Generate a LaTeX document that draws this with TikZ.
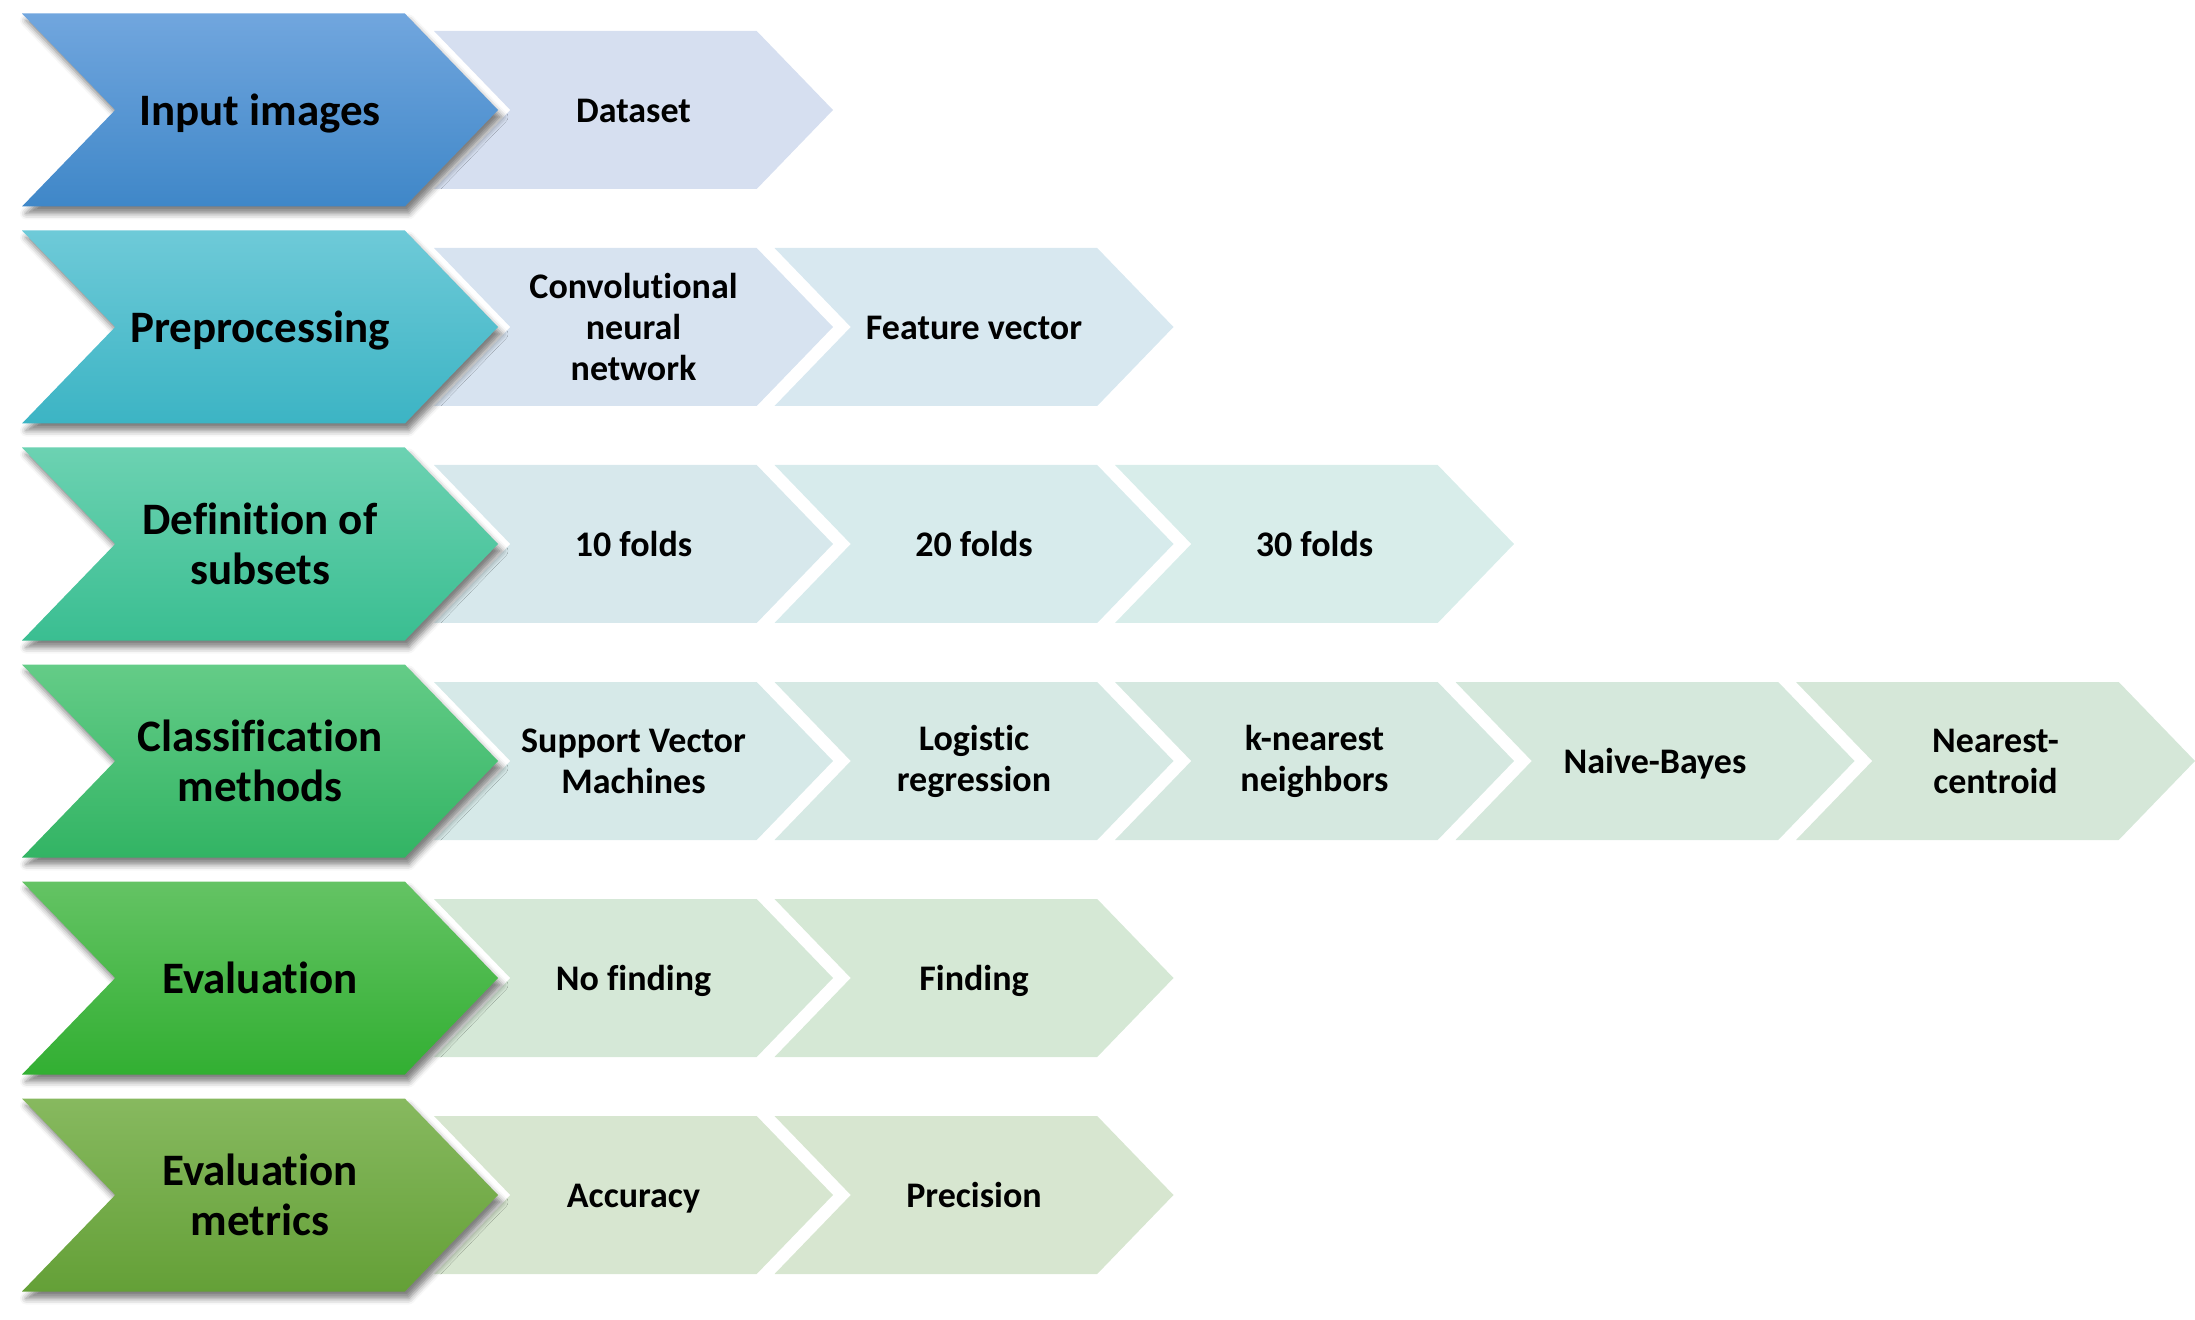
\documentclass[tikz,border=0pt]{standalone}
\usepackage{fontspec}
\setmainfont{Carlito}[Ligatures=NoCommon]
\usetikzlibrary{shapes.symbols,shadows.blur}
% Farben der grossen Pfeile (oben / unten)
\definecolor{inputtop}{RGB}{113,166,222}
\definecolor{inputbot}{RGB}{63,135,200}
\definecolor{preptop}{RGB}{110,202,216}
\definecolor{prepbot}{RGB}{60,180,196}
\definecolor{subtop}{RGB}{108,210,178}
\definecolor{subbot}{RGB}{58,190,145}
\definecolor{clstop}{RGB}{100,204,135}
\definecolor{clsbot}{RGB}{50,180,100}
\definecolor{evaltop}{RGB}{100,195,100}
\definecolor{evalbot}{RGB}{50,175,50}
\definecolor{mettop}{RGB}{135,185,95}
\definecolor{metbot}{RGB}{100,160,55}
% Farben der kleinen Pfeile
\definecolor{rowa}{RGB}{214,223,240}
\definecolor{rowba}{RGB}{215,227,240}
\definecolor{rowbb}{RGB}{216,232,240}
\definecolor{rowca}{RGB}{215,232,236}
\definecolor{rowcb}{RGB}{215,235,236}
\definecolor{rowcc}{RGB}{216,237,234}
\definecolor{rowda}{RGB}{214,233,232}
\definecolor{rowdb}{RGB}{214,233,228}
\definecolor{rowdc}{RGB}{213,232,224}
\definecolor{rowdd}{RGB}{213,232,220}
\definecolor{rowde}{RGB}{213,231,216}
\definecolor{rowea}{RGB}{213,232,215}
\definecolor{roweb}{RGB}{213,232,213}
\definecolor{rowf}{RGB}{215,230,208}

\begin{document}
\begin{tikzpicture}[x=0.5pt, y=-0.5pt,
		bigstep/.style={signal, signal to=east, signal from=west, signal pointer angle=92,
			minimum width=238pt, minimum height=96.5pt, inner sep=0pt, align=center,
			font=\fontsize{22.5}{25}\selectfont\bfseries,
			blur shadow={shadow xshift=2pt, shadow yshift=-3.5pt, shadow blur radius=3pt, shadow opacity=50}},
		substep/.style={signal, signal to=east, signal from=west, signal pointer angle=92,
			minimum width=199.5pt, minimum height=79pt, inner sep=0pt, align=center,
			font=\fontsize{18}{20.5}\selectfont\bfseries, fill=#1},
		oneline/.style={execute at begin node={\rule{0pt}{0.91\baselineskip}}, execute at end node=\strut}]
	%Bildbereich
	\useasboundingbox (0,0) rectangle (2195,1320);
	% kleine Pfeile
	\node[substep=rowa, oneline] (dataset) at (633.5,110) {Dataset};
	\node[substep=rowba] (cnn) at (633.5,327) {Convolutional\\neural\\network};
	\node[substep=rowbb, oneline] (featvec) at (974,327) {Feature vector};
	\node[substep=rowca, oneline] (fold10) at (633.5,544) {10 folds};
	\node[substep=rowcb, oneline] (fold20) at (974,544) {20 folds};
	\node[substep=rowcc, oneline] (fold30) at (1314.5,544) {30 folds};
	\node[substep=rowda] (svm) at (633.5,761) {Support Vector\\Machines};
	\node[substep=rowdb] (logreg) at (974,761) {Logistic\\regression};
	\node[substep=rowdc] (knn) at (1314.5,761) {k-nearest\\neighbors};
	\node[substep=rowdd, oneline] (bayes) at (1655,761) {Naive-Bayes};
	\node[substep=rowde] (centroid) at (1995.5,761) {Nearest-\\centroid};
	\node[substep=rowea, oneline] (nofind) at (633.5,978) {No finding};
	\node[substep=roweb, oneline] (find) at (974,978) {Finding};
	\node[substep=rowf, oneline] (acc) at (633.5,1195) {Accuracy};
	\node[substep=rowf, oneline] (prec) at (974,1195) {Precision};
	% grosse Pfeile
	\node[bigstep, oneline, top color=inputtop, bottom color=inputbot] (input) at (260,110) {Input images};
	\node[bigstep, oneline, top color=preptop, bottom color=prepbot] (prep) at (260,327) {Preprocessing};
	\node[bigstep, top color=subtop, bottom color=subbot] (subsets) at (260,544) {Definition of\\subsets};
	\node[bigstep, top color=clstop, bottom color=clsbot] (methods) at (260,761) {Classification\\methods};
	\node[bigstep, oneline, top color=evaltop, bottom color=evalbot] (eval) at (260,978) {Evaluation};
	\node[bigstep, top color=mettop, bottom color=metbot] (metrics) at (260,1195) {Evaluation\\metrics};
\end{tikzpicture}
\end{document}
